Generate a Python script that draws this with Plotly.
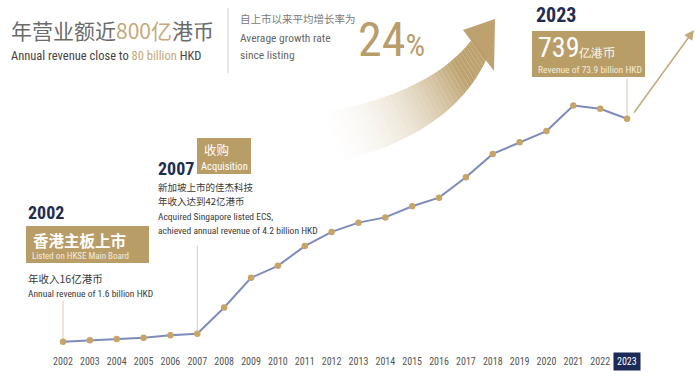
import plotly.graph_objects as go

# ---------------- data ----------------
years = list(range(2002, 2024))
revenue = [16, 21, 25, 29, 37, 42, 127, 223, 262, 326, 372, 402, 419, 455,
           483, 549, 625, 663, 699, 782, 771, 739]   # 亿港币
tick_labels = [str(y) for y in years]

W, H = 700, 376
MB = 26
PH = H - MB  # plot height in px

GOLD = "#b99d67"
GOLD_T = "#c4a97a"
NAVY = "#1f2d50"
LINE = "#7d8cbc"
GRAY = "#6b6b6b"
DARK = "#3a3a3a"
NARROW = "Liberation Sans Narrow, Arial Narrow, Roboto Condensed, sans-serif"
CJK = "Noto Sans CJK SC, sans-serif"


def px(x):
    return x / W


def py(y):
    return 1 - y / PH


fig = go.Figure()

fig.add_trace(go.Scatter(
    x=years, y=revenue, mode="lines+markers",
    line=dict(color=LINE, width=2),
    marker=dict(color="#c7a567", size=6.5),
    hoverinfo="x+y", showlegend=False,
))

shapes = []
annotations = []

# ---------- swoosh arrow (decoration, gradient imitated by slices) ----------
def bez(p0, p1, p2, t):
    return ((1 - t) ** 2 * p0[0] + 2 * (1 - t) * t * p1[0] + t * t * p2[0],
            (1 - t) ** 2 * p0[1] + 2 * (1 - t) * t * p1[1] + t * t * p2[1])

up = [(312, 114), (430, 96), (473, 38)]
lo = [(330, 164), (452, 136), (487, 58)]
N = 40
for i in range(N):
    t0, t1 = i / N, (i + 1) / N
    a = bez(*up, t0); b = bez(*up, t1)
    c = bez(*lo, t1); d = bez(*lo, t0)
    op = min(1.0, ((t0 + t1) / 2) / 0.8) ** 1.8 * 0.95
    path = "M {} {} L {} {} L {} {} L {} {} Z".format(
        px(a[0]), py(a[1]), px(b[0]), py(b[1]), px(c[0]), py(c[1]), px(d[0]), py(d[1]))
    shapes.append(dict(type="path", xref="paper", yref="paper", path=path,
                       fillcolor=GOLD, opacity=op, line=dict(width=0), layer="below"))
# arrow head
head = [(463, 30), (495, 19), (494, 71)]
shapes.append(dict(type="path", xref="paper", yref="paper",
                   path="M {} {} L {} {} L {} {} Z".format(
                       px(head[0][0]), py(head[0][1]), px(head[1][0]), py(head[1][1]),
                       px(head[2][0]), py(head[2][1])),
                   fillcolor=GOLD, opacity=0.95, line=dict(width=0), layer="below"))

# ---------- separator ----------
shapes.append(dict(type="line", xref="paper", yref="paper",
                   x0=px(228), x1=px(228), y0=py(8), y1=py(73),
                   line=dict(color="#cfcfcf", width=1)))

# ---------- vertical leader lines anchored at data points ----------
for yr, up_px in [(2002, 41), (2007, 88), (2023, 40)]:
    v = revenue[years.index(yr)]
    shapes.append(dict(type="line", xref="x", yref="y", ysizemode="pixel",
                       yanchor=v, x0=yr, x1=yr, y0=0, y1=up_px,
                       line=dict(color="#dccbaa", width=1), layer="below"))

# ---------- boxes ----------
def box(x0, y0, x1, y1, color=GOLD):
    shapes.append(dict(type="rect", xref="paper", yref="paper",
                       x0=px(x0), x1=px(x1), y0=py(y1), y1=py(y0),
                       fillcolor=color, line=dict(width=0), layer="below"))

box(532, 31, 645, 77)
box(197, 138, 251, 174)
box(26, 226, 149, 263)


def text(x, y, s, size, color, family=NARROW, xanchor="left", **kw):
    annotations.append(dict(x=px(x), y=py(y), xref="paper", yref="paper", text=s,
                            showarrow=False, xanchor=xanchor, yanchor="middle",
                            font=dict(size=size, color=color, family=family), **kw))

# title block
text(9, 30, "年营业额近<span style='color:%s'>800亿</span>港币" % GOLD_T, 21, GRAY, CJK)
text(9, 55, "Annual revenue close to <span style='color:%s'>80 billion</span> HKD" % GOLD_T, 12.5, "#444")

text(238, 19, "自上市以来平均增长率为", 10.5, "#7a7a7a", CJK)
text(238, 38, "Average growth rate", 11.5, "#666")
text(238, 55, "since listing", 11.5, "#666")
text(356, 39, "24<span style='font-size:31px'>%</span>", 48, "#b89d6a")

# 2023
text(534, 15, "<b>2023</b>", 20, NAVY)
text(536, 48, "739<span style='font-size:12px'>亿港币</span>", 28, "white")
text(536, 69, "Revenue of 73.9 billion HKD", 9.5, "#f4ecdc")

# 2007
text(156, 168, "<b>2007</b>", 18, NAVY)
text(202, 149, "收购", 12.5, "white", CJK)
text(199, 166, "Acquisition", 10.5, "white")
text(156, 187, "新加坡上市的佳杰科技", 9.5, DARK, CJK)
text(156, 201, "年收入达到42亿港币", 9.5, DARK, CJK)
text(156, 216, "Acquired Singapore listed ECS,", 9.5, DARK)
text(156, 230, "achieved annual revenue of 4.2 billion HKD", 9.5, DARK)

# 2002
text(26, 212, "<b>2002</b>", 18, NAVY)
text(31, 240, "<b>香港主板上市</b>", 15.5, "white", CJK)
text(30, 256, "Listed on HKSE Main Board", 9, "#f4ecdc")
text(26, 278, "年收入16亿港币", 10.5, DARK, CJK)
text(26, 293, "Annual revenue of 1.6 billion HKD", 9.5, DARK)

# growth arrow from 2023 point
annotations.append(dict(x=px(694), y=py(30), xref="paper", yref="paper",
                        ax=-61, ay=84, axref="pixel", ayref="pixel",
                        showarrow=True, arrowhead=2, arrowsize=1.3, arrowwidth=1.5,
                        arrowcolor=GOLD_T, text=""))

# highlighted 2023 tick
annotations.append(dict(x=2023, y=py(361), xref="x", yref="paper", text="2023",
                        xanchor="center", yanchor="middle",
                        showarrow=False, bgcolor="#1b2a57", borderpad=3,
                        font=dict(size=10, color="white", family=NARROW)))

fig.update_layout(
    width=W, height=H,
    margin=dict(l=0, r=0, t=0, b=MB),
    paper_bgcolor="white", plot_bgcolor="white",
    xaxis=dict(range=[1999.655, 2025.715], showgrid=False, zeroline=False,
               showline=False, tickvals=years[:-1], ticktext=tick_labels[:-1],
               tickfont=dict(size=10, color="#555", family=NARROW), ticks="",
               ticklabelstandoff=4),
    yaxis=dict(range=[-11, 1124], visible=False),
    shapes=shapes, annotations=annotations,
)

fig.write_html("out.html", config={"displayModeBar": False},
               post_script="document.body.style.margin='0';")
